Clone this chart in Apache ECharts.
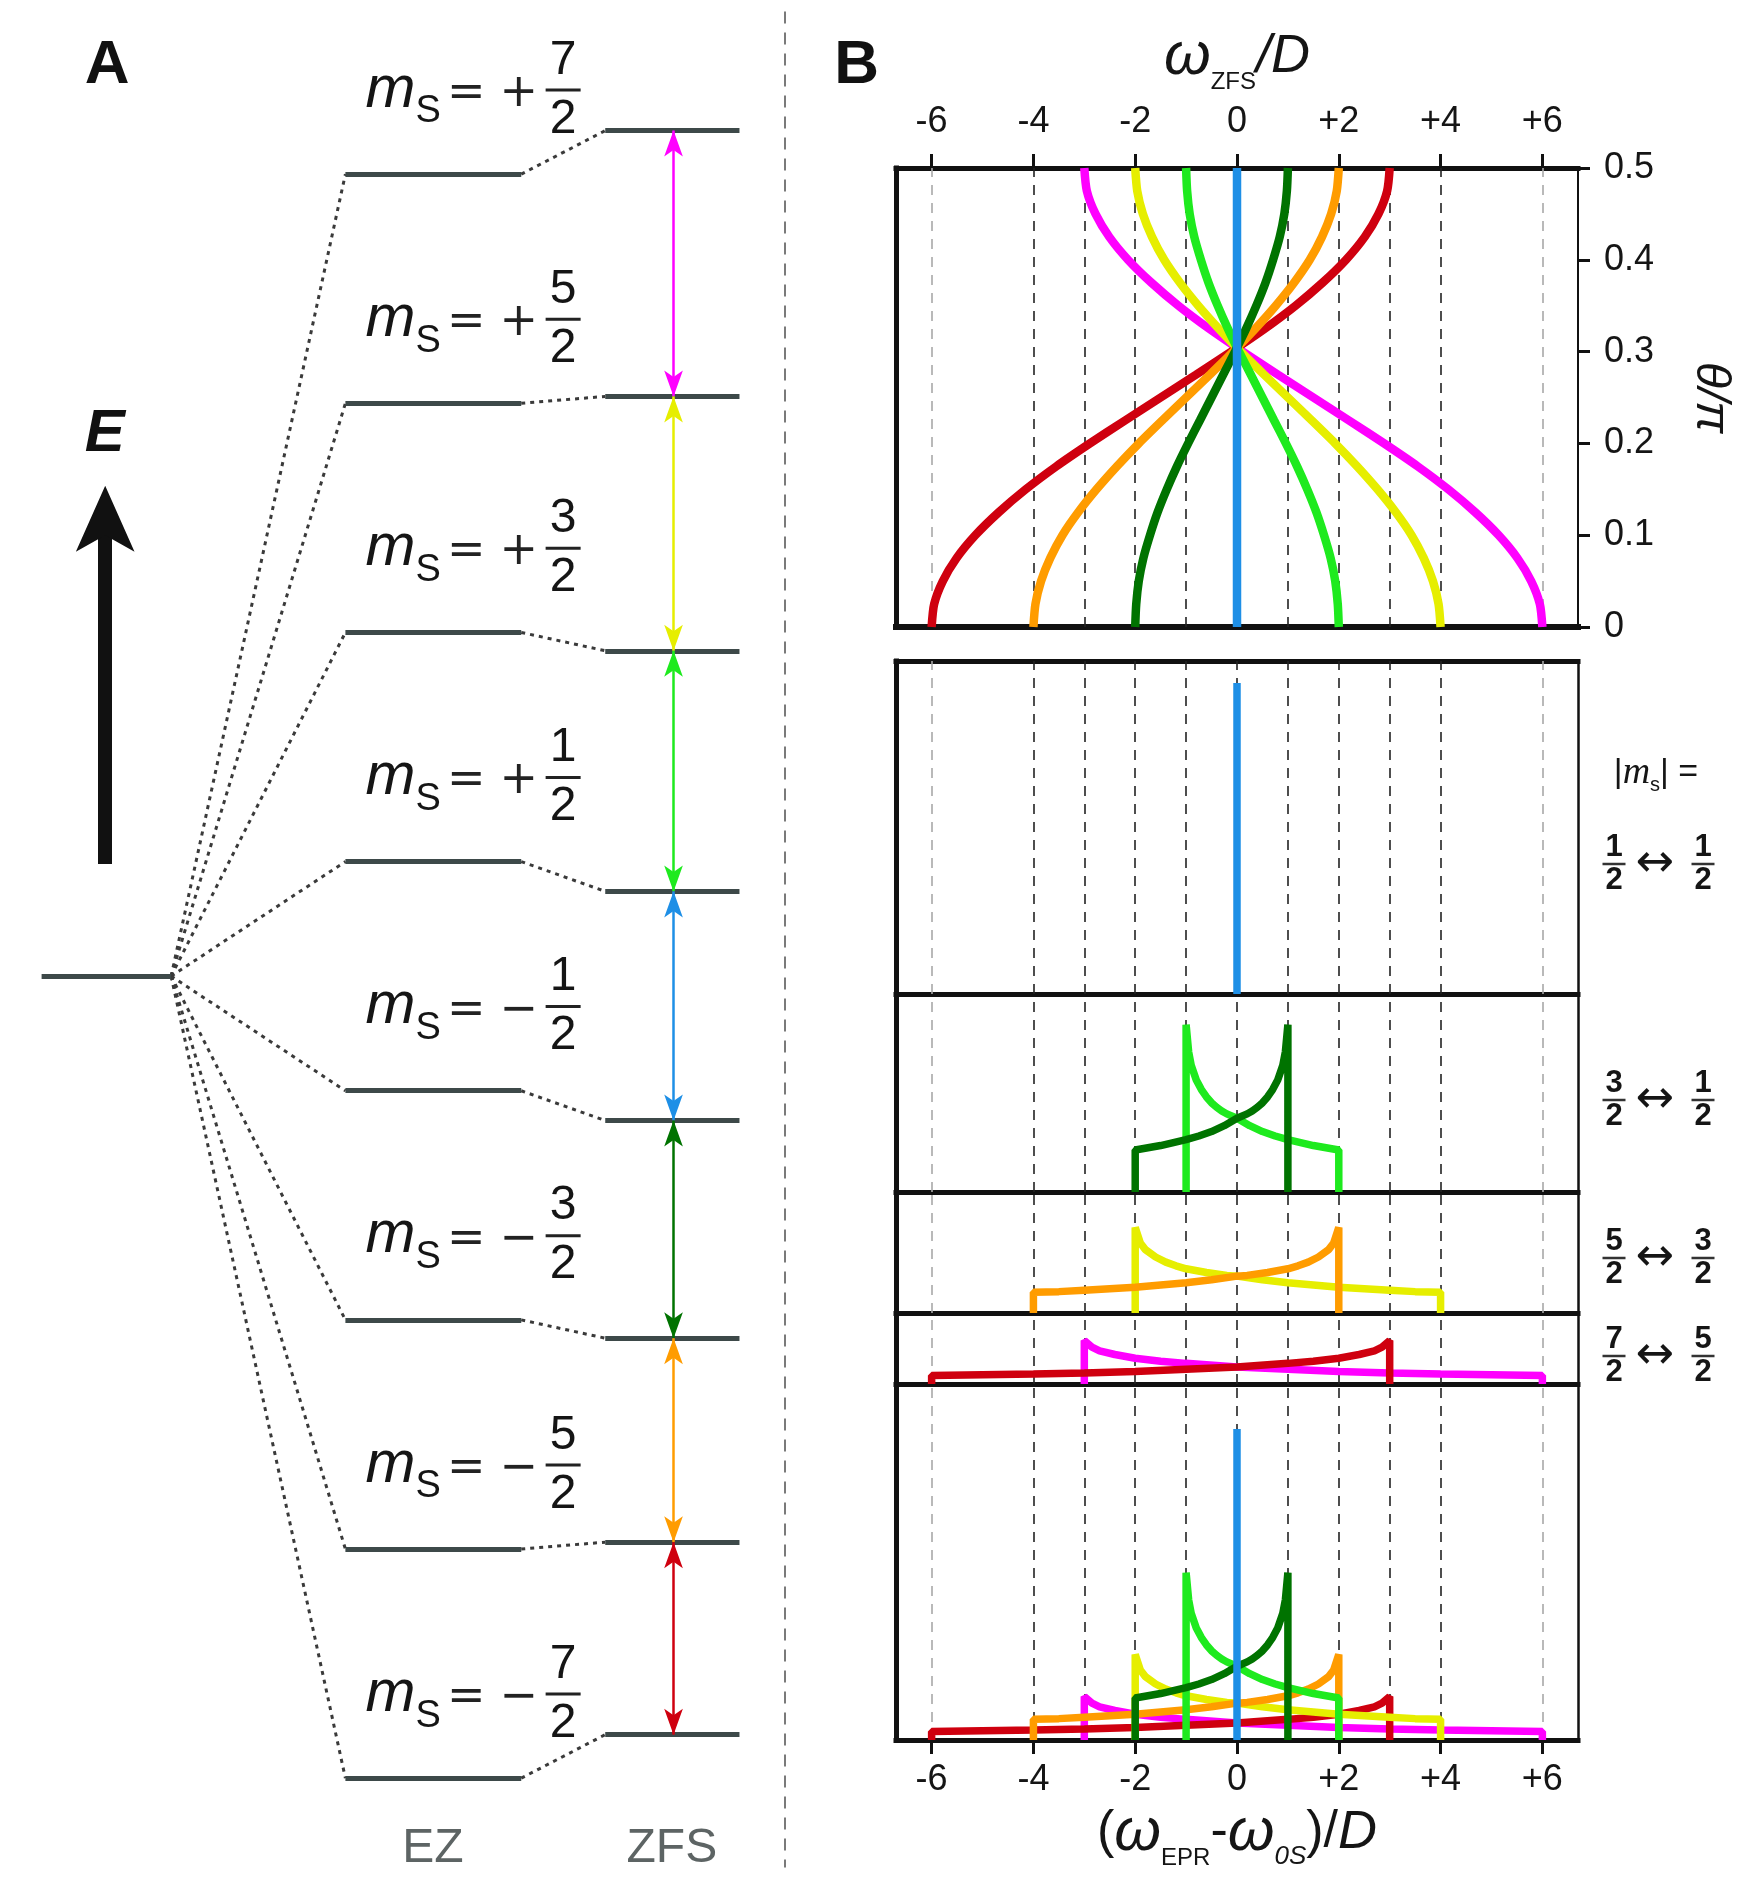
<!DOCTYPE html>
<html>
<head>
<meta charset="utf-8">
<title>Spin 7/2: level scheme, angular dependence and powder EPR lineshapes</title>
<script src="https://cdn.jsdelivr.net/npm/echarts@6/dist/echarts.min.js"></script>
<style>
  html, body { margin: 0; padding: 0; background: #ffffff; }
  #chart { width: 1747px; height: 1879px; }
</style>
</head>
<body>
<div id="chart"></div>
<script>
// ---------- Panel A: level scheme (energies in units of the Zeeman spacing) ----------
const spinSign = ['+', '+', '+', '+', '−', '−', '−', '−'];
const spinNumerator = ['7', '5', '3', '1', '1', '3', '5', '7'];
const ezLevels = [3.5, 2.5, 1.5, 0.5, -0.5, -1.5, -2.5, -3.5];
const zfsLevels = [3.69, 2.53, 1.42, 0.37, -0.63, -1.58, -2.47, -3.31];
const transitionKeys = ['magenta', 'yellow', 'green', 'blue', 'darkGreen', 'orange', 'red'];

// ---------- Panel B, top: ZFS shift of each transition vs polar angle ----------
const thetaOverPi = [0, 0.025, 0.05, 0.075, 0.1, 0.125, 0.15, 0.175, 0.2, 0.225, 0.25,
  0.275, 0.3, 0.325, 0.35, 0.375, 0.4, 0.425, 0.45, 0.475, 0.5];
const zfsRed = [-6, -5.95, -5.78, -5.51, -5.14, -4.68, -4.15, -3.55, -2.89, -2.2, -1.5,
  -0.8, -0.11, 0.55, 1.15, 1.68, 2.14, 2.51, 2.78, 2.95, 3];
const zfsOrange = [-4, -3.96, -3.85, -3.67, -3.43, -3.12, -2.76, -2.36, -1.93, -1.47, -1.0,
  -0.53, -0.07, 0.36, 0.76, 1.12, 1.43, 1.67, 1.85, 1.96, 2];
const zfsDarkGreen = [-2, -1.98, -1.93, -1.84, -1.71, -1.56, -1.38, -1.18, -0.96, -0.73, -0.5,
  -0.27, -0.04, 0.18, 0.38, 0.56, 0.71, 0.84, 0.93, 0.98, 1];
const zfsBlue = [0, 0, 0, 0, 0, 0, 0, 0, 0, 0, 0, 0, 0, 0, 0, 0, 0, 0, 0, 0, 0];
const zfsGreen = [2, 1.98, 1.93, 1.84, 1.71, 1.56, 1.38, 1.18, 0.96, 0.73, 0.5,
  0.27, 0.04, -0.18, -0.38, -0.56, -0.71, -0.84, -0.93, -0.98, -1];
const zfsYellow = [4, 3.96, 3.85, 3.67, 3.43, 3.12, 2.76, 2.36, 1.93, 1.47, 1.0,
  0.53, 0.07, -0.36, -0.76, -1.12, -1.43, -1.67, -1.85, -1.96, -2];
const zfsMagenta = [6, 5.95, 5.78, 5.51, 5.14, 4.68, 4.15, 3.55, 2.89, 2.2, 1.5,
  0.8, 0.11, -0.55, -1.15, -1.68, -2.14, -2.51, -2.78, -2.95, -3];

// ---------- Panel B, bottom: powder lineshapes as [offset / D, intensity] ----------
const specBlue = [[0, 0], [0, 4.22]];
const specGreen = [[-1, 0], [-1, 2.27], [-0.95, 1.9], [-0.9, 1.72], [-0.8, 1.52], [-0.7, 1.39],
  [-0.6, 1.29], [-0.5, 1.21], [-0.4, 1.15], [-0.3, 1.1], [-0.2, 1.06], [0, 1.0], [0.25, 0.9],
  [0.5, 0.82], [0.75, 0.76], [1, 0.71], [1.25, 0.67], [1.5, 0.63], [1.75, 0.6], [2, 0.57], [2, 0]];
const specDarkGreen = [[-2, 0], [-2, 0.57], [-1.75, 0.6], [-1.5, 0.63], [-1.25, 0.67], [-1, 0.71],
  [-0.75, 0.76], [-0.5, 0.82], [-0.25, 0.9], [0, 1.0], [0.2, 1.06], [0.3, 1.1], [0.4, 1.15],
  [0.5, 1.21], [0.6, 1.29], [0.7, 1.39], [0.8, 1.52], [0.9, 1.72], [0.95, 1.9], [1, 2.27], [1, 0]];
const specYellow = [[-2, 0], [-2, 1.16], [-1.9, 0.95], [-1.8, 0.86], [-1.6, 0.76], [-1.4, 0.69],
  [-1.2, 0.64], [-1, 0.6], [-0.6, 0.55], [-0.2, 0.51], [0, 0.5], [0.5, 0.45], [1, 0.41],
  [1.5, 0.38], [2, 0.35], [2.5, 0.33], [3, 0.31], [3.5, 0.29], [4, 0.28], [4, 0]];
const specOrange = [[-4, 0], [-4, 0.28], [-3.5, 0.29], [-3, 0.31], [-2.5, 0.33], [-2, 0.35],
  [-1.5, 0.38], [-1, 0.41], [-0.5, 0.45], [0, 0.5], [0.2, 0.51], [0.6, 0.55], [1, 0.6],
  [1.2, 0.64], [1.4, 0.69], [1.6, 0.76], [1.8, 0.86], [1.9, 0.95], [2, 1.16], [2, 0]];
const specMagenta = [[-3, 0], [-3, 0.59], [-2.85, 0.5], [-2.7, 0.45], [-2.4, 0.4], [-2, 0.35],
  [-1.5, 0.31], [-1, 0.28], [0, 0.23], [1, 0.2], [2, 0.17], [3, 0.15], [4, 0.135], [5, 0.125],
  [6, 0.115], [6, 0]];
const specRed = [[-6, 0], [-6, 0.115], [-5, 0.125], [-4, 0.135], [-3, 0.15], [-2, 0.17],
  [-1, 0.2], [0, 0.23], [1, 0.28], [1.5, 0.31], [2, 0.35], [2.4, 0.4], [2.7, 0.45],
  [2.85, 0.5], [3, 0.59], [3, 0]];

// |m_s| transition pairs listed beside the stacked lineshapes
const transitionPairs = [['1', '1'], ['3', '1'], ['5', '3'], ['7', '5']];

// axis ticks
const omegaTicks = [-6, -4, -2, 0, 2, 4, 6];
const omegaGridLines = [-6, -4, -3, -2, -1, 0, 1, 2, 3, 4, 6];

// ---------- styles and layout ----------
const COLORS = {
  magenta: '#ff00ff', yellow: '#e6ee00', green: '#1eea1e', blue: '#1e8fe6',
  darkGreen: '#007300', orange: '#ff9c00', red: '#cf000f'
};
const INK = '#111111';
const TEXT = '#151515';
const LEVEL_INK = '#3d4949';
const SANS = '"Liberation Sans", Arial, Helvetica, sans-serif';
const SERIF = '"Liberation Serif", "Times New Roman", serif';
const MATH = '"DejaVu Sans", "Liberation Sans", sans-serif';

const OMEGA_MIN = -6.7, OMEGA_MAX = 6.7;
const COL = {
  baseL: 0.53, baseR: 2.18, ezL: 4.40, ezR: 6.64, zfsL: 7.71, zfsR: 9.42, arrow: 8.58,
  labelEnd: 6.86, frac: 7.18, eArrow: 1.34, divider: 10.0
};
const LABEL_RISE = 0.365;
const energyArrow = { from: 0.49, to: 2.14 };

const GRID_A = { left: 0, top: 0, width: 942, height: 1879 };
const GRID_TOP = { left: 896, top: 168, width: 682, height: 459 };
const STACK_EDGES = [661, 994, 1192, 1313, 1384, 1740];
const PX_PER_INTENSITY = 73.7;
const stackGrids = [];
for (let k = 0; k < STACK_EDGES.length - 1; k++) {
  stackGrids.push({ left: 896, width: 682, top: STACK_EDGES[k], height: STACK_EDGES[k + 1] - STACK_EDGES[k] });
}
const grids = [GRID_A, GRID_TOP].concat(stackGrids).map(g =>
  Object.assign({ outerBoundsMode: 'none', containLabel: false, show: false }, g));

const fmtOmega = v => (v > 0 ? '+' + v : String(v));

// ---------- axes ----------
function frameAxis(gridIndex, position, width, min, max) {
  return {
    type: 'value', gridIndex, position, min, max,
    axisLine: { show: true, onZero: false, lineStyle: { color: INK, width, cap: 'square' } },
    axisTick: { show: false }, axisLabel: { show: false },
    splitLine: { show: false }, splitArea: { show: false }
  };
}
const omegaTickStyle = { show: true, customValues: omegaTicks, length: 14, lineStyle: { color: INK, width: 3 } };
function omegaLabelStyle(margin) {
  return { show: true, customValues: omegaTicks, formatter: fmtOmega, fontSize: 36,
    fontFamily: SANS, color: TEXT, margin };
}

const xAxes = [];
const yAxes = [];
// panel A
xAxes.push({ type: 'value', gridIndex: 0, min: 0, max: 12, show: false });
yAxes.push({ type: 'value', gridIndex: 0, min: -3.94, max: 4.26, show: false });

// panel B top: x on top, frame below
const topX = frameAxis(1, 'top', 5, OMEGA_MIN, OMEGA_MAX);
topX.axisTick = omegaTickStyle;
topX.axisLabel = omegaLabelStyle(28);
topX.name = '{w|ω}{s|ZFS}{d|/D}';
topX.nameLocation = 'middle';
topX.nameGap = 74;
topX.nameMoveOverlap = false;
topX.nameTextStyle = {
  color: TEXT,
  rich: {
    w: { fontSize: 60, fontStyle: 'italic', fontFamily: SANS, color: TEXT, lineHeight: 74 },
    s: { fontSize: 24, fontFamily: SANS, color: TEXT, verticalAlign: 'bottom' },
    d: { fontSize: 54, fontStyle: 'italic', fontFamily: SANS, color: TEXT }
  }
};
xAxes.push(topX);
xAxes.push(frameAxis(1, 'bottom', 6, OMEGA_MIN, OMEGA_MAX));
yAxes.push(frameAxis(1, 'left', 5, 0, 0.5));
const thetaAxis = frameAxis(1, 'right', 2, 0, 0.5);
thetaAxis.interval = 0.1;
thetaAxis.axisTick = { show: true, length: 12, lineStyle: { color: INK, width: 3 } };
thetaAxis.axisLabel = { show: true, fontSize: 36, fontFamily: SANS, color: TEXT, margin: 26,
  formatter: v => (v === 0 ? '0' : v.toFixed(1)) };
thetaAxis.name = 'θ/π';
thetaAxis.nameLocation = 'middle';
thetaAxis.nameRotate = -90;
thetaAxis.nameGap = 108;
thetaAxis.nameMoveOverlap = false;
thetaAxis.nameTextStyle = { fontSize: 48, fontStyle: 'italic', fontFamily: SANS, color: TEXT };
yAxes.push(thetaAxis);

// stacked lineshape panels
stackGrids.forEach((g, k) => {
  const last = k === stackGrids.length - 1;
  const ax = frameAxis(2 + k, 'bottom', 5, OMEGA_MIN, OMEGA_MAX);
  if (last) {
    ax.axisTick = omegaTickStyle;
    ax.axisLabel = omegaLabelStyle(22);
    ax.name = '{p|(}{w|ω}{s|EPR}{p|-}{w|ω}{s2|0S}{p|)/}{d|D}';
    ax.nameLocation = 'middle';
    ax.nameGap = 56;
    ax.nameMoveOverlap = false;
    ax.nameTextStyle = {
      color: TEXT,
      rich: {
        p: { fontSize: 52, fontFamily: SANS, color: TEXT },
        w: { fontSize: 60, fontStyle: 'italic', fontFamily: SANS, color: TEXT, lineHeight: 74 },
        s: { fontSize: 24, fontFamily: SANS, color: TEXT, verticalAlign: 'bottom' },
        s2: { fontSize: 26, fontStyle: 'italic', fontFamily: SANS, color: TEXT, verticalAlign: 'bottom' },
        d: { fontSize: 54, fontStyle: 'italic', fontFamily: SANS, color: TEXT }
      }
    };
  }
  xAxes.push(ax);
  yAxes.push(frameAxis(2 + k, 'left', 5, 0, g.height / PX_PER_INTENSITY));
});
stackGrids.forEach((g, k) => {
  yAxes.push(frameAxis(2 + k, 'right', 2.5, 0, g.height / PX_PER_INTENSITY));
});
xAxes.push(frameAxis(2, 'top', 5, OMEGA_MIN, OMEGA_MAX));

// dashed guide lines at integer multiples of D
function guideLines() {
  return {
    silent: true, symbol: ['none', 'none'], z: 1, animation: false,
    label: { show: false }, emphasis: { disabled: true },
    data: omegaGridLines.map(v => ({
      xAxis: v,
      lineStyle: { type: [10, 8], width: 1.6, opacity: 1, color: Math.abs(v) === 6 ? '#a8a8a8' : '#222222' }
    }))
  };
}

// ---------- series ----------
const series = [];
const linesBase = { type: 'lines', coordinateSystem: 'cartesian2d', xAxisIndex: 0, yAxisIndex: 0,
  silent: true, polyline: false, animation: false };

// energy levels
const levelSegs = [{ coords: [[COL.baseL, 0], [COL.baseR, 0]] }]
  .concat(ezLevels.map(e => ({ coords: [[COL.ezL, e], [COL.ezR, e]] })))
  .concat(zfsLevels.map(z => ({ coords: [[COL.zfsL, z], [COL.zfsR, z]] })));
series.push(Object.assign({}, linesBase, { z: 3,
  lineStyle: { color: LEVEL_INK, width: 5, opacity: 1, curveness: 0 }, data: levelSegs }));

// dotted correlation lines
const connSegs = ezLevels.map(e => ({ coords: [[COL.baseR, 0], [COL.ezL, e]] }))
  .concat(ezLevels.map((e, i) => ({ coords: [[COL.ezR, e], [COL.zfsL, zfsLevels[i]]] })));
series.push(Object.assign({}, linesBase, { z: 2,
  lineStyle: { color: '#3a3a3a', width: 3, type: [4, 5], opacity: 1, curveness: 0 }, data: connSegs }));

// allowed EPR transitions
transitionKeys.forEach((key, i) => {
  series.push(Object.assign({}, linesBase, { z: 4,
    symbol: ['arrow', 'arrow'], symbolSize: [[14, 26], [14, 26]],
    lineStyle: { color: COLORS[key], width: 2.5, opacity: 1, curveness: 0 },
    data: [{ coords: [[COL.arrow, zfsLevels[i]], [COL.arrow, zfsLevels[i + 1]]] }] }));
});

// energy axis arrow
series.push(Object.assign({}, linesBase, { z: 4,
  lineStyle: { color: INK, width: 14, opacity: 1, curveness: 0 },
  data: [{ coords: [[COL.eArrow, energyArrow.from], [COL.eArrow, energyArrow.to - 0.15]] }] }));
series.push({ type: 'scatter', xAxisIndex: 0, yAxisIndex: 0, silent: true, z: 5, animation: false,
  symbol: 'arrow', symbolSize: [44, 66], itemStyle: { color: INK, opacity: 1 },
  data: [[COL.eArrow, energyArrow.to]] });

// vertical divider between the panels
series.push(Object.assign({}, linesBase, { z: 1,
  lineStyle: { color: '#7a7a7a', width: 2, type: [12, 9], opacity: 1, curveness: 0 },
  data: [{ coords: [[COL.divider, 4.21], [COL.divider, -3.89]] }] }));

// text placed in panel A data space
function textSeries(data, label) {
  return { type: 'scatter', xAxisIndex: 0, yAxisIndex: 0, silent: true, z: 6, animation: false,
    symbolSize: 1, itemStyle: { color: 'rgba(0,0,0,0)', opacity: 1 },
    label: Object.assign({ show: true, position: [0, 0], color: TEXT }, label), data };
}
const levelRich = {
  mm: { fontFamily: SANS, fontStyle: 'italic', fontSize: 60, lineHeight: 82, color: TEXT },
  sub: { fontFamily: SANS, fontSize: 38, color: TEXT, verticalAlign: 'bottom' },
  eq: { fontFamily: MATH, fontSize: 46, color: '#222222', padding: [8, 0, 0, 6] },
  pl: { fontFamily: MATH, fontSize: 46, color: '#222222', padding: [8, 0, 0, 14] }
};
series.push(textSeries(
  ezLevels.map((e, i) => ({ value: [COL.labelEnd, e + LABEL_RISE],
    label: { formatter: '{mm|m}{sub|S}{eq|=}{pl|' + spinSign[i] + '}' } })),
  { align: 'right', verticalAlign: 'middle', rich: levelRich }));
const fracRich = {
  num: { fontFamily: SANS, fontSize: 48, lineHeight: 47, color: TEXT, align: 'center' },
  bar: { width: 35, height: 3, lineHeight: 12, backgroundColor: '#222222', align: 'center' }
};
series.push(textSeries(
  ezLevels.map((e, i) => ({ value: [COL.frac, e + LABEL_RISE],
    label: { formatter: '{num|' + spinNumerator[i] + '}\n{bar|}\n{num|2}' } })),
  { align: 'center', verticalAlign: 'middle', rich: fracRich }));
series.push(textSeries([
  { value: [1.37, 3.97], label: { formatter: 'A' } },
  { value: [10.92, 3.97], label: { formatter: 'B' } }
], { align: 'center', verticalAlign: 'middle', fontSize: 62, fontWeight: 'bold', fontFamily: SANS, color: INK }));
series.push(textSeries([
  { value: [COL.eArrow, 2.36], label: { formatter: 'E' } }
], { align: 'center', verticalAlign: 'middle', fontSize: 60, fontWeight: 'bold', fontStyle: 'italic',
  fontFamily: SANS, color: INK }));
series.push(textSeries([
  { value: [(COL.ezL + COL.ezR) / 2, -3.81], label: { formatter: 'EZ' } },
  { value: [(COL.zfsL + COL.zfsR) / 2, -3.81], label: { formatter: 'ZFS' } }
], { align: 'center', verticalAlign: 'middle', fontSize: 48, fontFamily: SANS, color: '#5d6464' }));

// panel B top: angular dependence
const topCurves = [
  ['magenta', zfsMagenta], ['red', zfsRed], ['yellow', zfsYellow], ['orange', zfsOrange],
  ['green', zfsGreen], ['darkGreen', zfsDarkGreen], ['blue', zfsBlue]
];
topCurves.forEach(([key, arr], j) => {
  const s = { type: 'line', xAxisIndex: 1, yAxisIndex: 2, silent: true, animation: false,
    showSymbol: false, symbol: 'none', smooth: 0.25, z: 3,
    lineStyle: { color: COLORS[key], width: 8.5 },
    data: thetaOverPi.map((t, i) => [arr[i], t]) };
  if (j === 0) s.markLine = guideLines();
  series.push(s);
});

// panel B bottom: stacked lineshapes (last panel overlays all transitions)
const spectra = { blue: specBlue, green: specGreen, darkGreen: specDarkGreen, yellow: specYellow,
  orange: specOrange, magenta: specMagenta, red: specRed };
const panelContents = [
  ['blue'], ['green', 'darkGreen'], ['yellow', 'orange'], ['magenta', 'red'],
  ['magenta', 'red', 'yellow', 'orange', 'green', 'darkGreen', 'blue']
];
panelContents.forEach((keys, k) => {
  keys.forEach((key, j) => {
    const s = { type: 'line', xAxisIndex: 3 + k, yAxisIndex: 3 + k, silent: true, animation: false,
      showSymbol: false, symbol: 'none', z: 3,
      lineStyle: { color: COLORS[key], width: 7.5 }, data: spectra[key] };
    if (j === 0) s.markLine = guideLines();
    series.push(s);
  });
});

// ---------- |m_s| labels to the right of the stacked panels ----------
const LBL = { left: 1614, arrow: 1655, right: 1703, rows: [864, 1100, 1258, 1356], head: 773 };
function fracText(x, y, num, den) {
  return { type: 'text', x, y, silent: true,
    style: { text: '{n|' + num + '}\n{b|}\n{n|' + den + '}', align: 'center', verticalAlign: 'middle',
      font: 'bold 31px ' + SANS, fill: TEXT,
      rich: {
        n: { font: 'bold 31px ' + SANS, fill: TEXT, lineHeight: 27, align: 'center' },
        b: { width: 23, height: 2.5, lineHeight: 6, backgroundColor: '#333333', align: 'center' }
      } } };
}
const graphicEls = [{
  type: 'text', x: 1656, y: LBL.head, silent: true,
  style: { text: '|{mi|m}{ss|s}| =', align: 'center', verticalAlign: 'middle',
    font: '34px ' + SANS, fill: TEXT,
    rich: {
      mi: { font: 'italic 38px ' + SERIF, fill: TEXT, lineHeight: 44 },
      ss: { font: '20px ' + SANS, fill: TEXT, verticalAlign: 'bottom' }
    } }
}];
transitionPairs.forEach((pair, i) => {
  const y = LBL.rows[i];
  graphicEls.push(fracText(LBL.left, y, pair[0], '2'));
  graphicEls.push({ type: 'text', x: LBL.arrow, y, silent: true,
    style: { text: '↔', align: 'center', verticalAlign: 'middle', font: '46px ' + MATH, fill: TEXT } });
  graphicEls.push(fracText(LBL.right, y, pair[1], '2'));
});

const chart = echarts.init(document.getElementById('chart'), null, { renderer: 'canvas', width: 1747, height: 1879 });
chart.setOption({
  backgroundColor: '#ffffff',
  animation: false,
  grid: grids,
  xAxis: xAxes,
  yAxis: yAxes,
  series: series,
  graphic: { elements: graphicEls }
});
</script>
</body>
</html>
